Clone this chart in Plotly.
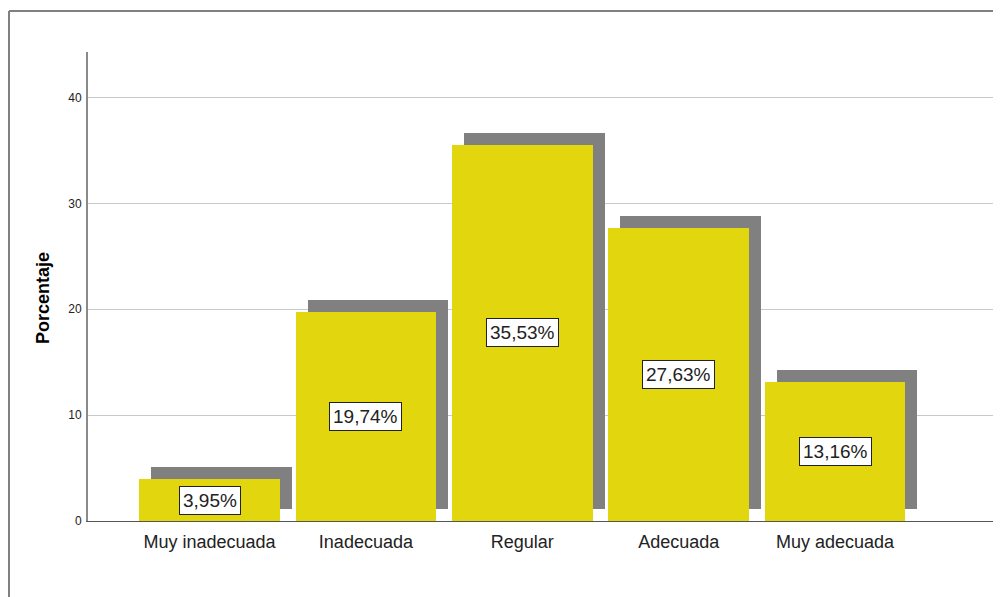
import plotly.graph_objects as go

categories = ["Muy inadecuada", "Inadecuada", "Regular", "Adecuada", "Muy adecuada"]
percentages = [3.95, 19.74, 35.53, 27.63, 13.16]
y_ticks = [0, 10, 20, 30, 40]

# the page body adds an 8px offset, so positions are shifted by 8px
OFF = 8
W, H = 1001, 597 - OFF
ml, mr, mt, mb = 88 - OFF, 0, 52 - OFF, 76
plot_w = W - ml - mr
plot_h = H - mt - mb
px_per_x = 156.4
x_range = [-(209.5 - 88) / px_per_x, -(209.5 - 88) / px_per_x + plot_w / px_per_x]
y_range = [0, 44.3]
px_per_y = plot_h / (y_range[1] - y_range[0])
dx = 12 / px_per_x
dy = 12 / px_per_y

xs = list(range(len(categories)))
labels = [f"{v:.2f}".replace(".", ",") + "%" for v in percentages]

FONT = "Liberation Sans, Arial, sans-serif"

fig = go.Figure()
fig.add_trace(go.Bar(
    x=[x + dx for x in xs], y=percentages, base=dy, width=0.9,
    marker=dict(color="#808080", line=dict(width=0)),
    hoverinfo="skip", showlegend=False,
))
fig.add_trace(go.Bar(
    x=xs, y=percentages, width=0.9,
    marker=dict(color="#E2D60E", line=dict(width=0)),
    showlegend=False,
))

for x, v, t in zip(xs, percentages, labels):
    fig.add_annotation(
        x=x, y=v / 2, text=t, showarrow=False,
        font=dict(family=FONT, size=19, color="#222222"),
        bgcolor="white", bordercolor="#222222", borderwidth=1, borderpad=3,
    )

fig.add_annotation(
    xref="paper", yref="paper", x=(43 - OFF - ml) / plot_w, y=(H - mb - (298 - OFF)) / plot_h,
    text="<b>Porcentaje</b>", textangle=-90, showarrow=False,
    xanchor="center", yanchor="middle",
    font=dict(family=FONT, size=18, color="#000000"),
)

# outer frame (top and left edges visible)
fx = (9 - OFF - ml) / plot_w
fy = (H - mb - (11 - OFF)) / plot_h
fig.add_shape(type="line", xref="paper", yref="paper", x0=fx, x1=1.2, y0=fy, y1=fy,
              line=dict(color="#808080", width=2))
fig.add_shape(type="line", xref="paper", yref="paper", x0=fx, x1=fx, y0=fy, y1=-0.3,
              line=dict(color="#808080", width=2))

fig.update_layout(
    width=W, height=H,
    margin=dict(l=ml, r=mr, t=mt, b=mb),
    paper_bgcolor="white", plot_bgcolor="white",
    barmode="overlay", bargap=0,
    font=dict(family=FONT),
    xaxis=dict(
        range=x_range, tickvals=xs, ticktext=categories,
        showgrid=False, zeroline=False,
        showline=True, linecolor="#555555", linewidth=1,
        ticks="", ticklabelstandoff=4,
        tickfont=dict(size=18, color="#222222"),
    ),
    yaxis=dict(
        range=y_range, tickvals=y_ticks,
        showgrid=True, gridcolor="#C8C8C8", gridwidth=1,
        zeroline=False, showline=True, linecolor="#8A8A8A", linewidth=2,
        ticks="", ticklabelstandoff=2,
        tickfont=dict(size=12, color="#222222"),
    ),
)

fig.write_html("out.html")
